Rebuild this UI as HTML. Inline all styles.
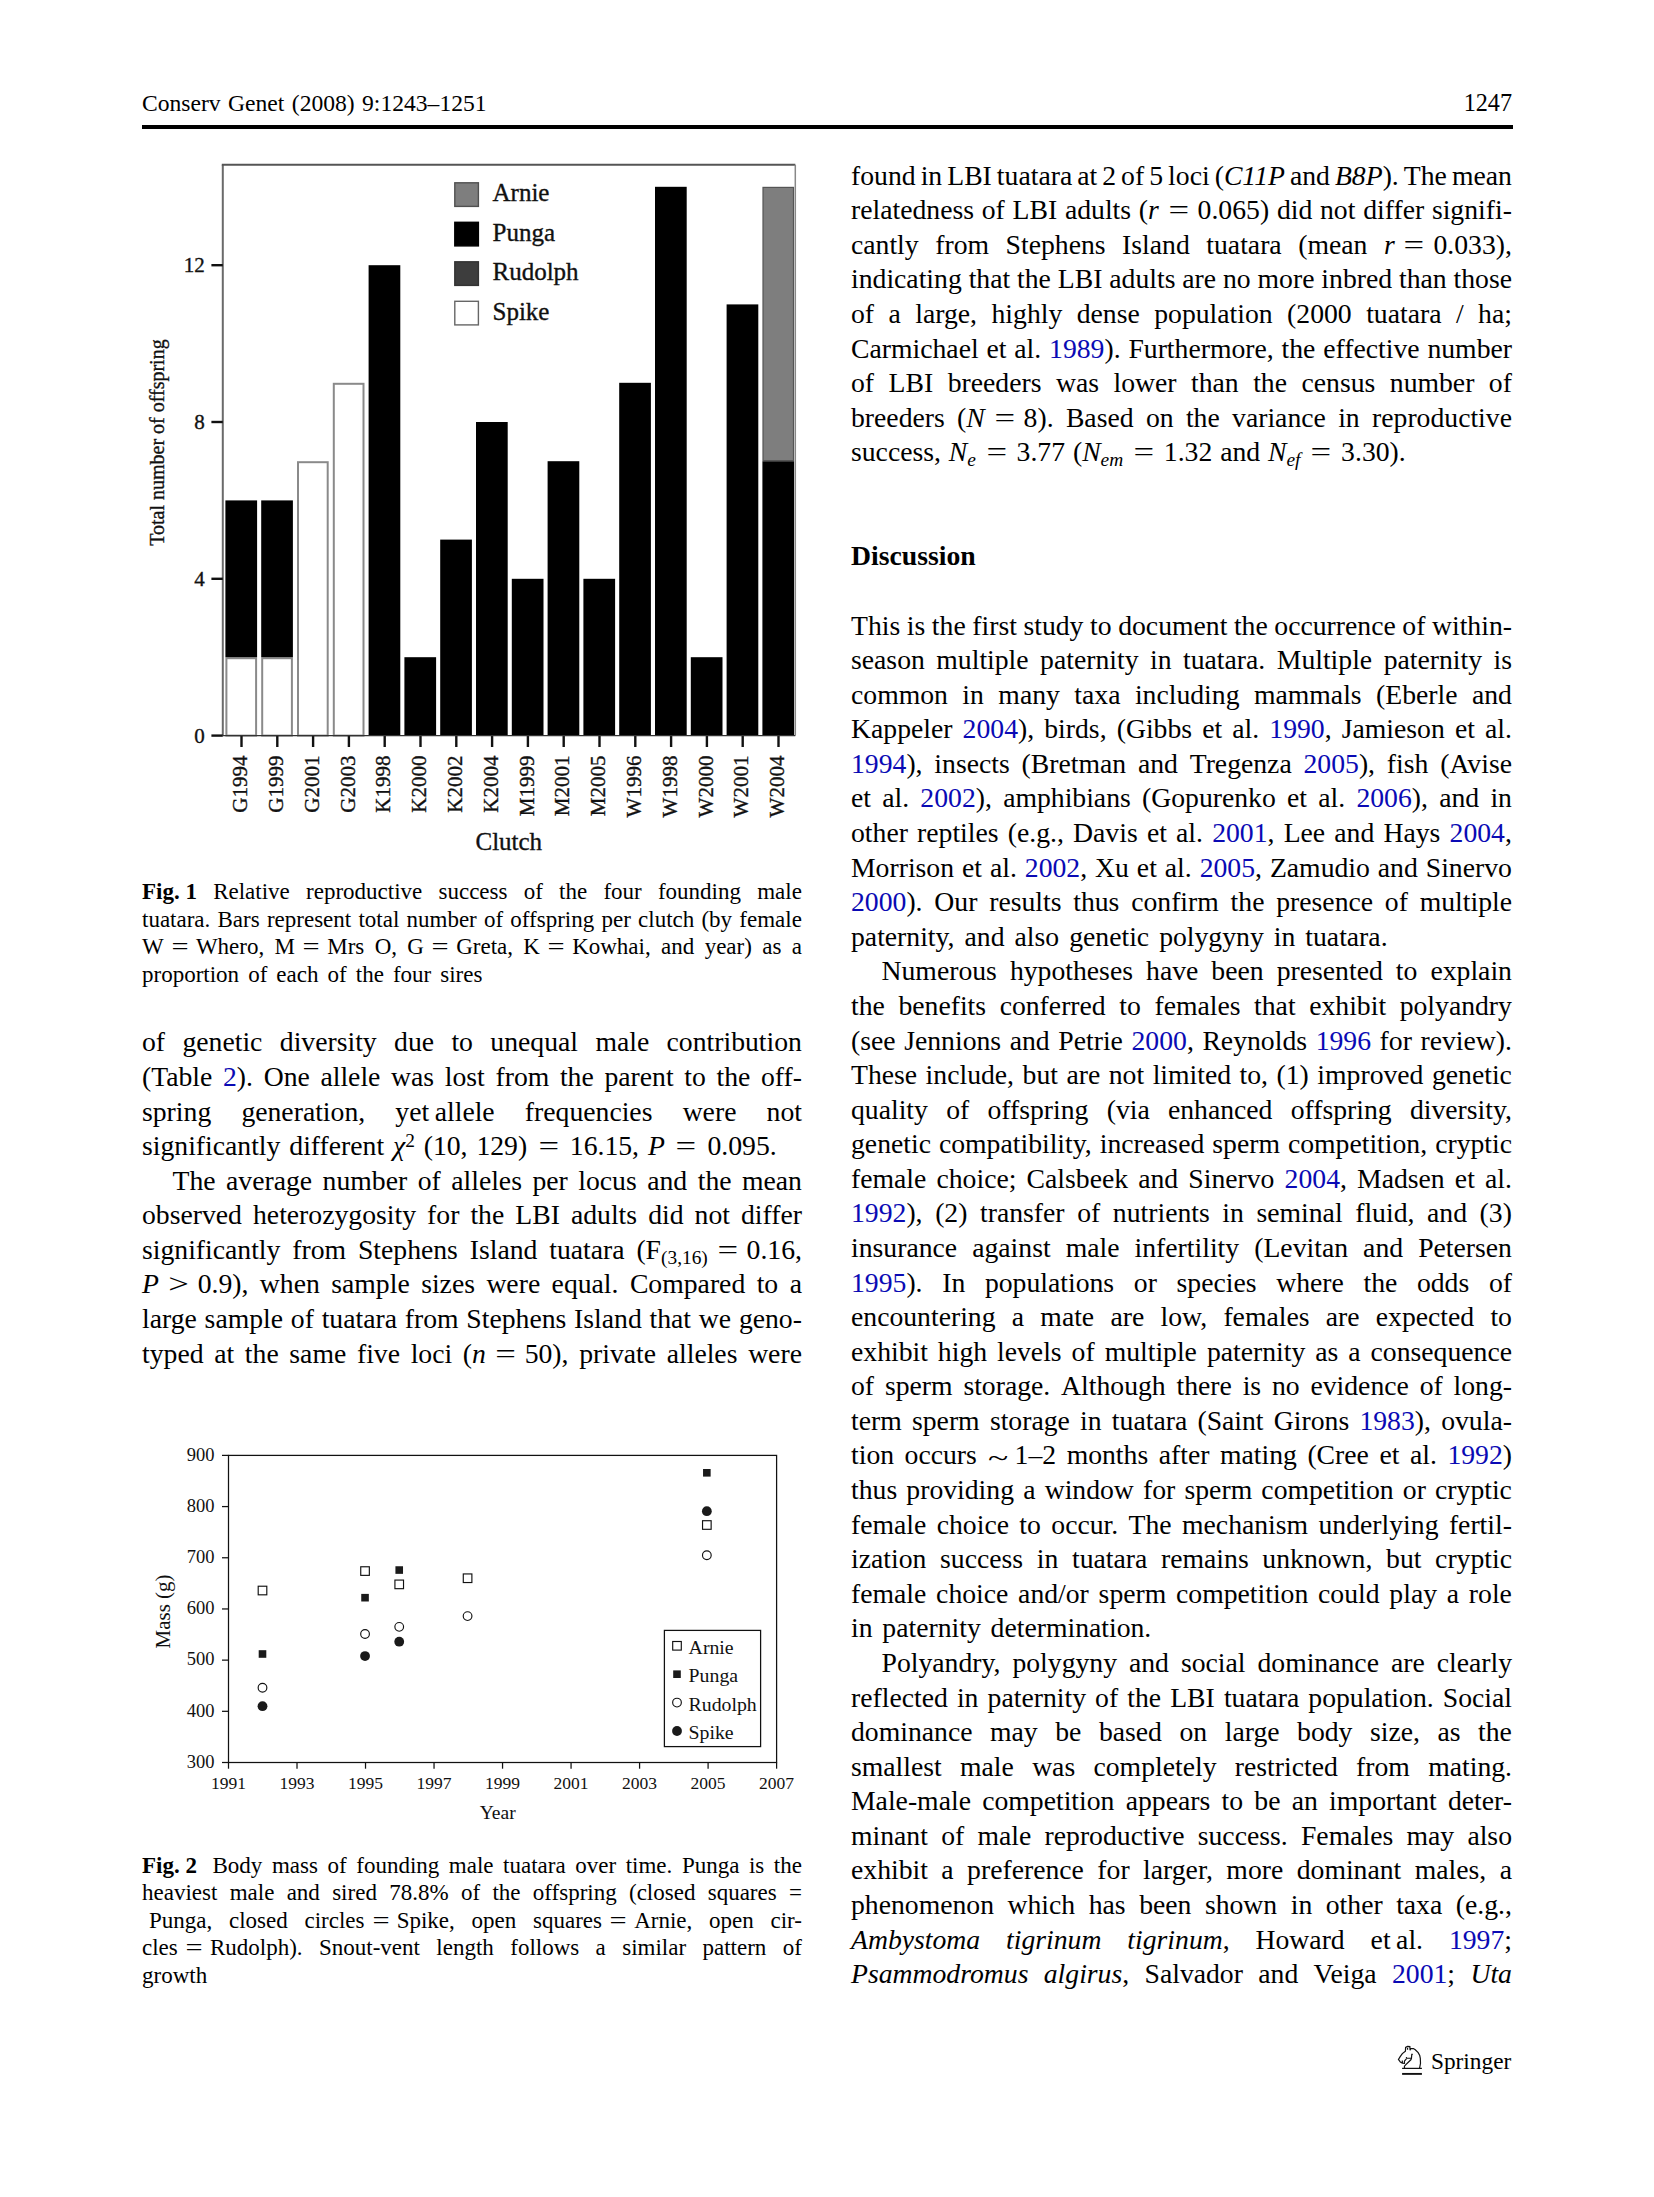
<!DOCTYPE html>
<html><head><meta charset="utf-8">
<style>
html,body{margin:0;padding:0;background:#fff;}
#pg{position:relative;width:1654px;height:2197px;overflow:hidden;background:#fff;color:#000;font-family:"Liberation Serif",serif;}
.lj,.ll{position:absolute;line-height:1;white-space:nowrap;}
.lj{display:flex;justify-content:space-between;align-items:baseline;}
.lj>span{display:block;}
a{color:#0a0ab4;text-decoration:none;}
sub,sup{line-height:0;font-size:70%;}
.sim{display:inline-block;width:0.8em;margin-right:5px;text-align:center;transform:translateY(0.11em) scaleX(1.35);}
.eq{display:inline-block;width:0.7em;margin:0 0.1em;text-align:center;transform:scaleX(1.32);}
sub{vertical-align:-0.25em;}
sup{vertical-align:0.4em;}
svg{position:absolute;left:0;top:0;}
svg text{font-family:"Liberation Serif",serif;fill:#111;}
.bar text{stroke:#111;stroke-width:0.35px;}
</style></head><body><div id="pg">
<svg width="1654" height="2197" viewBox="0 0 1654 2197">
<defs><pattern id="hatch" width="3" height="3" patternUnits="userSpaceOnUse"><rect width="3" height="3" fill="#555"/><path d="M0,3 L3,0" stroke="#222" stroke-width="1"/></pattern></defs>
<g class="bar"><rect x="226.40" y="658.20" width="29.70" height="77.40" fill="#fff" stroke="#8a8a8a" stroke-width="2"/><rect x="225.40" y="500.40" width="31.70" height="156.80" fill="#000"/><line x1="241.50" y1="735.60" x2="241.50" y2="747.00" stroke="#111" stroke-width="2.4"/><text transform="translate(247.20,755.6) rotate(-90)" text-anchor="end" font-size="21">G1994</text><rect x="262.20" y="658.20" width="29.70" height="77.40" fill="#fff" stroke="#8a8a8a" stroke-width="2"/><rect x="261.20" y="500.40" width="31.70" height="156.80" fill="#000"/><line x1="277.30" y1="735.60" x2="277.30" y2="747.00" stroke="#111" stroke-width="2.4"/><text transform="translate(283.00,755.6) rotate(-90)" text-anchor="end" font-size="21">G1999</text><rect x="298.00" y="462.20" width="29.70" height="273.40" fill="#fff" stroke="#8a8a8a" stroke-width="2"/><line x1="313.10" y1="735.60" x2="313.10" y2="747.00" stroke="#111" stroke-width="2.4"/><text transform="translate(318.80,755.6) rotate(-90)" text-anchor="end" font-size="21">G2001</text><rect x="333.80" y="383.80" width="29.70" height="351.80" fill="#fff" stroke="#8a8a8a" stroke-width="2"/><line x1="348.90" y1="735.60" x2="348.90" y2="747.00" stroke="#111" stroke-width="2.4"/><text transform="translate(354.60,755.6) rotate(-90)" text-anchor="end" font-size="21">G2003</text><rect x="368.60" y="265.20" width="31.70" height="470.40" fill="#000"/><line x1="384.70" y1="735.60" x2="384.70" y2="747.00" stroke="#111" stroke-width="2.4"/><text transform="translate(390.40,755.6) rotate(-90)" text-anchor="end" font-size="21">K1998</text><rect x="404.40" y="657.20" width="31.70" height="78.40" fill="#000"/><line x1="420.50" y1="735.60" x2="420.50" y2="747.00" stroke="#111" stroke-width="2.4"/><text transform="translate(426.20,755.6) rotate(-90)" text-anchor="end" font-size="21">K2000</text><rect x="440.20" y="539.60" width="31.70" height="196.00" fill="#000"/><line x1="456.30" y1="735.60" x2="456.30" y2="747.00" stroke="#111" stroke-width="2.4"/><text transform="translate(462.00,755.6) rotate(-90)" text-anchor="end" font-size="21">K2002</text><rect x="476.00" y="422.00" width="31.70" height="313.60" fill="#000"/><line x1="492.10" y1="735.60" x2="492.10" y2="747.00" stroke="#111" stroke-width="2.4"/><text transform="translate(497.80,755.6) rotate(-90)" text-anchor="end" font-size="21">K2004</text><rect x="511.80" y="578.80" width="31.70" height="156.80" fill="#000"/><line x1="527.90" y1="735.60" x2="527.90" y2="747.00" stroke="#111" stroke-width="2.4"/><text transform="translate(533.60,755.6) rotate(-90)" text-anchor="end" font-size="21">M1999</text><rect x="547.60" y="461.20" width="31.70" height="274.40" fill="#000"/><line x1="563.70" y1="735.60" x2="563.70" y2="747.00" stroke="#111" stroke-width="2.4"/><text transform="translate(569.40,755.6) rotate(-90)" text-anchor="end" font-size="21">M2001</text><rect x="583.40" y="578.80" width="31.70" height="156.80" fill="#000"/><line x1="599.50" y1="735.60" x2="599.50" y2="747.00" stroke="#111" stroke-width="2.4"/><text transform="translate(605.20,755.6) rotate(-90)" text-anchor="end" font-size="21">M2005</text><rect x="619.20" y="382.80" width="31.70" height="352.80" fill="#000"/><line x1="635.30" y1="735.60" x2="635.30" y2="747.00" stroke="#111" stroke-width="2.4"/><text transform="translate(641.00,755.6) rotate(-90)" text-anchor="end" font-size="21">W1996</text><rect x="655.00" y="186.80" width="31.70" height="548.80" fill="#000"/><line x1="671.10" y1="735.60" x2="671.10" y2="747.00" stroke="#111" stroke-width="2.4"/><text transform="translate(676.80,755.6) rotate(-90)" text-anchor="end" font-size="21">W1998</text><rect x="690.80" y="657.20" width="31.70" height="78.40" fill="#000"/><line x1="706.90" y1="735.60" x2="706.90" y2="747.00" stroke="#111" stroke-width="2.4"/><text transform="translate(712.60,755.6) rotate(-90)" text-anchor="end" font-size="21">W2000</text><rect x="726.60" y="304.40" width="31.70" height="431.20" fill="#000"/><line x1="742.70" y1="735.60" x2="742.70" y2="747.00" stroke="#111" stroke-width="2.4"/><text transform="translate(748.40,755.6) rotate(-90)" text-anchor="end" font-size="21">W2001</text><rect x="762.40" y="461.20" width="31.70" height="274.40" fill="#000"/><rect x="763.00" y="187.40" width="30.50" height="273.20" fill="#7e7e7e" stroke="#555" stroke-width="1.2"/><line x1="778.50" y1="735.60" x2="778.50" y2="747.00" stroke="#111" stroke-width="2.4"/><text transform="translate(784.20,755.6) rotate(-90)" text-anchor="end" font-size="21">W2004</text><line x1="222.80" y1="164.70" x2="222.80" y2="735.60" stroke="#6a6a6a" stroke-width="2"/><line x1="221.80" y1="164.70" x2="795.30" y2="164.70" stroke="#555" stroke-width="2"/><line x1="795.30" y1="164.70" x2="795.30" y2="735.60" stroke="#888" stroke-width="1.5"/><line x1="222.80" y1="735.60" x2="795.30" y2="735.60" stroke="#333" stroke-width="1.4"/><line x1="211.4" y1="735.60" x2="222.80" y2="735.60" stroke="#111" stroke-width="2.4"/><text x="204.8" y="742.80" text-anchor="end" font-size="21">0</text><line x1="211.4" y1="578.80" x2="222.80" y2="578.80" stroke="#111" stroke-width="2.4"/><text x="204.8" y="586.00" text-anchor="end" font-size="21">4</text><line x1="211.4" y1="422.00" x2="222.80" y2="422.00" stroke="#111" stroke-width="2.4"/><text x="204.8" y="429.20" text-anchor="end" font-size="21">8</text><line x1="211.4" y1="265.20" x2="222.80" y2="265.20" stroke="#111" stroke-width="2.4"/><text x="204.8" y="272.40" text-anchor="end" font-size="21">12</text><text transform="translate(164.2,442.6) rotate(-90)" text-anchor="middle" font-size="20">Total number of offspring</text><text x="508.8" y="849.6" text-anchor="middle" font-size="25">Clutch</text><rect x="454.8" y="182.80" width="23.6" height="23.6" fill="#7e7e7e" stroke="#505050" stroke-width="1.4"/><text x="492.5" y="201.40" font-size="25">Arnie</text><rect x="454.8" y="222.30" width="23.6" height="23.6" fill="#000" stroke="#000" stroke-width="1.4"/><text x="492.5" y="240.90" font-size="25">Punga</text><rect x="454.8" y="261.80" width="23.6" height="23.6" fill="#3d3d3d" stroke="#333" stroke-width="1.4"/><text x="492.5" y="280.40" font-size="25">Rudolph</text><rect x="454.8" y="301.30" width="23.6" height="23.6" fill="#fff" stroke="#666" stroke-width="1.4"/><text x="492.5" y="319.90" font-size="25">Spike</text></g><g class="sc"><rect x="228.50" y="1455.40" width="548.10" height="307.10" fill="none" stroke="#111" stroke-width="1.25"/><line x1="222" y1="1762.50" x2="228.50" y2="1762.50" stroke="#111" stroke-width="1.25"/><text x="214.5" y="1767.80" text-anchor="end" font-size="18.5">300</text><line x1="222" y1="1711.32" x2="228.50" y2="1711.32" stroke="#111" stroke-width="1.25"/><text x="214.5" y="1716.62" text-anchor="end" font-size="18.5">400</text><line x1="222" y1="1660.13" x2="228.50" y2="1660.13" stroke="#111" stroke-width="1.25"/><text x="214.5" y="1665.43" text-anchor="end" font-size="18.5">500</text><line x1="222" y1="1608.95" x2="228.50" y2="1608.95" stroke="#111" stroke-width="1.25"/><text x="214.5" y="1614.25" text-anchor="end" font-size="18.5">600</text><line x1="222" y1="1557.77" x2="228.50" y2="1557.77" stroke="#111" stroke-width="1.25"/><text x="214.5" y="1563.07" text-anchor="end" font-size="18.5">700</text><line x1="222" y1="1506.58" x2="228.50" y2="1506.58" stroke="#111" stroke-width="1.25"/><text x="214.5" y="1511.88" text-anchor="end" font-size="18.5">800</text><line x1="222" y1="1455.40" x2="228.50" y2="1455.40" stroke="#111" stroke-width="1.25"/><text x="214.5" y="1460.70" text-anchor="end" font-size="18.5">900</text><line x1="228.50" y1="1762.50" x2="228.50" y2="1768.7" stroke="#111" stroke-width="1.25"/><text x="228.50" y="1789.4" text-anchor="middle" font-size="17.5">1991</text><line x1="297.01" y1="1762.50" x2="297.01" y2="1768.7" stroke="#111" stroke-width="1.25"/><text x="297.01" y="1789.4" text-anchor="middle" font-size="17.5">1993</text><line x1="365.52" y1="1762.50" x2="365.52" y2="1768.7" stroke="#111" stroke-width="1.25"/><text x="365.52" y="1789.4" text-anchor="middle" font-size="17.5">1995</text><line x1="434.04" y1="1762.50" x2="434.04" y2="1768.7" stroke="#111" stroke-width="1.25"/><text x="434.04" y="1789.4" text-anchor="middle" font-size="17.5">1997</text><line x1="502.55" y1="1762.50" x2="502.55" y2="1768.7" stroke="#111" stroke-width="1.25"/><text x="502.55" y="1789.4" text-anchor="middle" font-size="17.5">1999</text><line x1="571.06" y1="1762.50" x2="571.06" y2="1768.7" stroke="#111" stroke-width="1.25"/><text x="571.06" y="1789.4" text-anchor="middle" font-size="17.5">2001</text><line x1="639.58" y1="1762.50" x2="639.58" y2="1768.7" stroke="#111" stroke-width="1.25"/><text x="639.58" y="1789.4" text-anchor="middle" font-size="17.5">2003</text><line x1="708.09" y1="1762.50" x2="708.09" y2="1768.7" stroke="#111" stroke-width="1.25"/><text x="708.09" y="1789.4" text-anchor="middle" font-size="17.5">2005</text><line x1="776.60" y1="1762.50" x2="776.60" y2="1768.7" stroke="#111" stroke-width="1.25"/><text x="776.60" y="1789.4" text-anchor="middle" font-size="17.5">2007</text><text x="497.7" y="1818.6" text-anchor="middle" font-size="19.5">Year</text><text transform="translate(169.6,1611.5) rotate(-90)" text-anchor="middle" font-size="21">Mass (g)</text><rect x="258.20" y="1586.22" width="8.6" height="8.6" fill="#fff" stroke="#111" stroke-width="1.15"/><rect x="258.70" y="1650.19" width="7.6" height="7.6" fill="#1a1a1a"/><circle cx="262.50" cy="1687.77" r="4.35" fill="#fff" stroke="#111" stroke-width="1.15"/><circle cx="262.50" cy="1706.20" r="4.9" fill="#1a1a1a"/><rect x="360.74" y="1566.77" width="8.6" height="8.6" fill="#fff" stroke="#111" stroke-width="1.15"/><rect x="361.24" y="1593.89" width="7.6" height="7.6" fill="#1a1a1a"/><circle cx="365.04" cy="1634.03" r="4.35" fill="#fff" stroke="#111" stroke-width="1.15"/><circle cx="365.04" cy="1656.04" r="4.9" fill="#1a1a1a"/><rect x="395.42" y="1566.25" width="7.6" height="7.6" fill="#1a1a1a"/><rect x="394.92" y="1580.08" width="8.6" height="8.6" fill="#fff" stroke="#111" stroke-width="1.15"/><circle cx="399.22" cy="1626.86" r="4.35" fill="#fff" stroke="#111" stroke-width="1.15"/><circle cx="399.22" cy="1641.71" r="4.9" fill="#1a1a1a"/><rect x="463.28" y="1573.94" width="8.6" height="8.6" fill="#fff" stroke="#111" stroke-width="1.15"/><circle cx="467.58" cy="1616.12" r="4.35" fill="#fff" stroke="#111" stroke-width="1.15"/><rect x="703.04" y="1469.00" width="7.6" height="7.6" fill="#1a1a1a"/><circle cx="706.84" cy="1511.19" r="4.9" fill="#1a1a1a"/><rect x="702.54" y="1520.71" width="8.6" height="8.6" fill="#fff" stroke="#111" stroke-width="1.15"/><circle cx="706.84" cy="1555.21" r="4.35" fill="#fff" stroke="#111" stroke-width="1.15"/><rect x="664.4" y="1630.4" width="96.2" height="116.2" fill="#fff" stroke="#111" stroke-width="1.25"/><rect x="672.70" y="1641.50" width="8.6" height="8.6" fill="#fff" stroke="#111" stroke-width="1.15"/><text x="688.6" y="1653.80" font-size="19.8">Arnie</text><rect x="673.20" y="1670.40" width="7.6" height="7.6" fill="#1a1a1a"/><text x="688.6" y="1681.70" font-size="19.8">Punga</text><circle cx="677.00" cy="1702.60" r="4.35" fill="#fff" stroke="#111" stroke-width="1.15"/><text x="688.6" y="1710.80" font-size="19.8">Rudolph</text><circle cx="677.00" cy="1731.00" r="4.9" fill="#1a1a1a"/><text x="688.6" y="1738.70" font-size="19.8">Spike</text></g><g fill="none" stroke="#111" stroke-width="1.2" stroke-linejoin="miter" stroke-linecap="butt"><path d="M1404.45,2068.41 L1404.45,2066.18 L1405.61,2064.83 L1410.83,2059.80 L1411.41,2058.64 L1411.80,2054.38 L1412.77,2054.38"/><path d="M1411.41,2058.25 L1406.57,2058.25 L1406.38,2057.09"/><path d="M1406.38,2058.83 L1404.83,2060.57 L1404.45,2061.35 L1404.45,2063.28 L1402.32,2063.09 L1400.38,2062.12 L1398.45,2059.41 L1400.19,2056.70 L1402.32,2053.61 L1405.41,2051.09 L1405.61,2047.42 L1407.54,2046.45 L1409.86,2046.64 L1410.06,2050.32 L1410.83,2048.38 L1413.35,2048.58 L1415.28,2049.74 L1418.18,2052.64 L1419.73,2055.54 L1420.31,2058.44 L1420.50,2063.28 L1419.54,2068.41"/><path d="M1407.54,2047.8 L1407.54,2049.74"/><path d="M1402.32,2060.38 L1402.32,2062.9"/></g><line x1="1402.1" y1="2068.4" x2="1421.9" y2="2068.4" stroke="#111" stroke-width="1.25"/><line x1="1402.1" y1="2073.9" x2="1421.9" y2="2073.9" stroke="#111" stroke-width="1.9"/>
</svg>
<div class="ll" style="left:142.0px;top:91.9px;font-size:23.60px;word-spacing:1.50px;">Conserv Genet (2008) 9:1243–1251</div>
<div class="ll" style="left:1400px;width:1512px;top:90.5px;font-size:24.2px;text-align:right;width:112px">1247</div>
<div style="position:absolute;left:142px;top:125px;width:1371px;height:3.8px;background:#000"></div>
<div class="lj" style="left:851.0px;top:161.7px;width:661.0px;font-size:27.70px;"><span>found</span><span>in</span><span>LBI</span><span>tuatara</span><span>at</span><span>2</span><span>of</span><span>5</span><span>loci</span><span>(<i>C11P</i></span><span>and</span><span><i>B8P</i>).</span><span>The</span><span>mean</span></div>
<div class="lj" style="left:851.0px;top:196.3px;width:661.0px;font-size:27.70px;"><span>relatedness</span><span>of</span><span>LBI</span><span>adults</span><span>(<i>r</i>&nbsp;<span class="eq">=</span>&nbsp;0.065)</span><span>did</span><span>not</span><span>differ</span><span>signifi-</span></div>
<div class="lj" style="left:851.0px;top:230.9px;width:661.0px;font-size:27.70px;"><span>cantly</span><span>from</span><span>Stephens</span><span>Island</span><span>tuatara</span><span>(mean</span><span><i>r</i>&nbsp;<span class="eq">=</span>&nbsp;0.033),</span></div>
<div class="lj" style="left:851.0px;top:265.4px;width:661.0px;font-size:27.70px;"><span>indicating</span><span>that</span><span>the</span><span>LBI</span><span>adults</span><span>are</span><span>no</span><span>more</span><span>inbred</span><span>than</span><span>those</span></div>
<div class="lj" style="left:851.0px;top:300.0px;width:661.0px;font-size:27.70px;"><span>of</span><span>a</span><span>large,</span><span>highly</span><span>dense</span><span>population</span><span>(2000</span><span>tuatara</span><span>/</span><span>ha;</span></div>
<div class="lj" style="left:851.0px;top:334.6px;width:661.0px;font-size:27.70px;"><span>Carmichael</span><span>et</span><span>al.</span><span><a>1989</a>).</span><span>Furthermore,</span><span>the</span><span>effective</span><span>number</span></div>
<div class="lj" style="left:851.0px;top:369.2px;width:661.0px;font-size:27.70px;"><span>of</span><span>LBI</span><span>breeders</span><span>was</span><span>lower</span><span>than</span><span>the</span><span>census</span><span>number</span><span>of</span></div>
<div class="lj" style="left:851.0px;top:403.8px;width:661.0px;font-size:27.70px;"><span>breeders</span><span>(<i>N</i>&nbsp;<span class="eq">=</span>&nbsp;8).</span><span>Based</span><span>on</span><span>the</span><span>variance</span><span>in</span><span>reproductive</span></div>
<div class="ll" style="left:851.0px;top:438.3px;font-size:27.70px;word-spacing:0.95px;">success, <i>N<sub>e</sub></i> <span class="eq">=</span> 3.77 (<i>N<sub>em</sub></i> <span class="eq">=</span> 1.32 and <i>N<sub>ef</sub></i> <span class="eq">=</span> 3.30).</div>
<div class="ll" style="left:851.0px;top:542.1px;font-size:27.70px;"><b>Discussion</b></div>
<div class="lj" style="left:851.0px;top:611.5px;width:661.0px;font-size:27.70px;"><span>This</span><span>is</span><span>the</span><span>first</span><span>study</span><span>to</span><span>document</span><span>the</span><span>occurrence</span><span>of</span><span>within-</span></div>
<div class="lj" style="left:851.0px;top:646.1px;width:661.0px;font-size:27.70px;"><span>season</span><span>multiple</span><span>paternity</span><span>in</span><span>tuatara.</span><span>Multiple</span><span>paternity</span><span>is</span></div>
<div class="lj" style="left:851.0px;top:680.7px;width:661.0px;font-size:27.70px;"><span>common</span><span>in</span><span>many</span><span>taxa</span><span>including</span><span>mammals</span><span>(Eberle</span><span>and</span></div>
<div class="lj" style="left:851.0px;top:715.2px;width:661.0px;font-size:27.70px;"><span>Kappeler</span><span><a>2004</a>),</span><span>birds,</span><span>(Gibbs</span><span>et</span><span>al.</span><span><a>1990</a>,</span><span>Jamieson</span><span>et</span><span>al.</span></div>
<div class="lj" style="left:851.0px;top:749.8px;width:661.0px;font-size:27.70px;"><span><a>1994</a>),</span><span>insects</span><span>(Bretman</span><span>and</span><span>Tregenza</span><span><a>2005</a>),</span><span>fish</span><span>(Avise</span></div>
<div class="lj" style="left:851.0px;top:784.4px;width:661.0px;font-size:27.70px;"><span>et</span><span>al.</span><span><a>2002</a>),</span><span>amphibians</span><span>(Gopurenko</span><span>et</span><span>al.</span><span><a>2006</a>),</span><span>and</span><span>in</span></div>
<div class="lj" style="left:851.0px;top:819.0px;width:661.0px;font-size:27.70px;"><span>other</span><span>reptiles</span><span>(e.g.,</span><span>Davis</span><span>et</span><span>al.</span><span><a>2001</a>,</span><span>Lee</span><span>and</span><span>Hays</span><span><a>2004</a>,</span></div>
<div class="lj" style="left:851.0px;top:853.6px;width:661.0px;font-size:27.70px;"><span>Morrison</span><span>et</span><span>al.</span><span><a>2002</a>,</span><span>Xu</span><span>et</span><span>al.</span><span><a>2005</a>,</span><span>Zamudio</span><span>and</span><span>Sinervo</span></div>
<div class="lj" style="left:851.0px;top:888.1px;width:661.0px;font-size:27.70px;"><span><a>2000</a>).</span><span>Our</span><span>results</span><span>thus</span><span>confirm</span><span>the</span><span>presence</span><span>of</span><span>multiple</span></div>
<div class="ll" style="left:851.0px;top:922.7px;font-size:27.70px;word-spacing:3.10px;">paternity, and also genetic polygyny in tuatara.</div>
<div class="lj" style="left:881.5px;top:957.3px;width:630.5px;font-size:27.70px;"><span>Numerous</span><span>hypotheses</span><span>have</span><span>been</span><span>presented</span><span>to</span><span>explain</span></div>
<div class="lj" style="left:851.0px;top:991.9px;width:661.0px;font-size:27.70px;"><span>the</span><span>benefits</span><span>conferred</span><span>to</span><span>females</span><span>that</span><span>exhibit</span><span>polyandry</span></div>
<div class="lj" style="left:851.0px;top:1026.5px;width:661.0px;font-size:27.70px;"><span>(see</span><span>Jennions</span><span>and</span><span>Petrie</span><span><a>2000</a>,</span><span>Reynolds</span><span><a>1996</a></span><span>for</span><span>review).</span></div>
<div class="lj" style="left:851.0px;top:1061.0px;width:661.0px;font-size:27.70px;"><span>These</span><span>include,</span><span>but</span><span>are</span><span>not</span><span>limited</span><span>to,</span><span>(1)</span><span>improved</span><span>genetic</span></div>
<div class="lj" style="left:851.0px;top:1095.6px;width:661.0px;font-size:27.70px;"><span>quality</span><span>of</span><span>offspring</span><span>(via</span><span>enhanced</span><span>offspring</span><span>diversity,</span></div>
<div class="lj" style="left:851.0px;top:1130.2px;width:661.0px;font-size:27.70px;"><span>genetic</span><span>compatibility,</span><span>increased</span><span>sperm</span><span>competition,</span><span>cryptic</span></div>
<div class="lj" style="left:851.0px;top:1164.8px;width:661.0px;font-size:27.70px;"><span>female</span><span>choice;</span><span>Calsbeek</span><span>and</span><span>Sinervo</span><span><a>2004</a>,</span><span>Madsen</span><span>et</span><span>al.</span></div>
<div class="lj" style="left:851.0px;top:1199.4px;width:661.0px;font-size:27.70px;"><span><a>1992</a>),</span><span>(2)</span><span>transfer</span><span>of</span><span>nutrients</span><span>in</span><span>seminal</span><span>fluid,</span><span>and</span><span>(3)</span></div>
<div class="lj" style="left:851.0px;top:1233.9px;width:661.0px;font-size:27.70px;"><span>insurance</span><span>against</span><span>male</span><span>infertility</span><span>(Levitan</span><span>and</span><span>Petersen</span></div>
<div class="lj" style="left:851.0px;top:1268.5px;width:661.0px;font-size:27.70px;"><span><a>1995</a>).</span><span>In</span><span>populations</span><span>or</span><span>species</span><span>where</span><span>the</span><span>odds</span><span>of</span></div>
<div class="lj" style="left:851.0px;top:1303.1px;width:661.0px;font-size:27.70px;"><span>encountering</span><span>a</span><span>mate</span><span>are</span><span>low,</span><span>females</span><span>are</span><span>expected</span><span>to</span></div>
<div class="lj" style="left:851.0px;top:1337.7px;width:661.0px;font-size:27.70px;"><span>exhibit</span><span>high</span><span>levels</span><span>of</span><span>multiple</span><span>paternity</span><span>as</span><span>a</span><span>consequence</span></div>
<div class="lj" style="left:851.0px;top:1372.3px;width:661.0px;font-size:27.70px;"><span>of</span><span>sperm</span><span>storage.</span><span>Although</span><span>there</span><span>is</span><span>no</span><span>evidence</span><span>of</span><span>long-</span></div>
<div class="lj" style="left:851.0px;top:1406.8px;width:661.0px;font-size:27.70px;"><span>term</span><span>sperm</span><span>storage</span><span>in</span><span>tuatara</span><span>(Saint</span><span>Girons</span><span><a>1983</a>),</span><span>ovula-</span></div>
<div class="lj" style="left:851.0px;top:1441.4px;width:661.0px;font-size:27.70px;"><span>tion</span><span>occurs</span><span><span class="sim">~</span>1–2</span><span>months</span><span>after</span><span>mating</span><span>(Cree</span><span>et</span><span>al.</span><span><a>1992</a>)</span></div>
<div class="lj" style="left:851.0px;top:1476.0px;width:661.0px;font-size:27.70px;"><span>thus</span><span>providing</span><span>a</span><span>window</span><span>for</span><span>sperm</span><span>competition</span><span>or</span><span>cryptic</span></div>
<div class="lj" style="left:851.0px;top:1510.6px;width:661.0px;font-size:27.70px;"><span>female</span><span>choice</span><span>to</span><span>occur.</span><span>The</span><span>mechanism</span><span>underlying</span><span>fertil-</span></div>
<div class="lj" style="left:851.0px;top:1545.2px;width:661.0px;font-size:27.70px;"><span>ization</span><span>success</span><span>in</span><span>tuatara</span><span>remains</span><span>unknown,</span><span>but</span><span>cryptic</span></div>
<div class="lj" style="left:851.0px;top:1579.7px;width:661.0px;font-size:27.70px;"><span>female</span><span>choice</span><span>and/or</span><span>sperm</span><span>competition</span><span>could</span><span>play</span><span>a</span><span>role</span></div>
<div class="ll" style="left:851.0px;top:1614.3px;font-size:27.70px;word-spacing:2.90px;">in paternity determination.</div>
<div class="lj" style="left:881.5px;top:1648.9px;width:630.5px;font-size:27.70px;"><span>Polyandry,</span><span>polygyny</span><span>and</span><span>social</span><span>dominance</span><span>are</span><span>clearly</span></div>
<div class="lj" style="left:851.0px;top:1683.5px;width:661.0px;font-size:27.70px;"><span>reflected</span><span>in</span><span>paternity</span><span>of</span><span>the</span><span>LBI</span><span>tuatara</span><span>population.</span><span>Social</span></div>
<div class="lj" style="left:851.0px;top:1718.1px;width:661.0px;font-size:27.70px;"><span>dominance</span><span>may</span><span>be</span><span>based</span><span>on</span><span>large</span><span>body</span><span>size,</span><span>as</span><span>the</span></div>
<div class="lj" style="left:851.0px;top:1752.6px;width:661.0px;font-size:27.70px;"><span>smallest</span><span>male</span><span>was</span><span>completely</span><span>restricted</span><span>from</span><span>mating.</span></div>
<div class="lj" style="left:851.0px;top:1787.2px;width:661.0px;font-size:27.70px;"><span>Male-male</span><span>competition</span><span>appears</span><span>to</span><span>be</span><span>an</span><span>important</span><span>deter-</span></div>
<div class="lj" style="left:851.0px;top:1821.8px;width:661.0px;font-size:27.70px;"><span>minant</span><span>of</span><span>male</span><span>reproductive</span><span>success.</span><span>Females</span><span>may</span><span>also</span></div>
<div class="lj" style="left:851.0px;top:1856.4px;width:661.0px;font-size:27.70px;"><span>exhibit</span><span>a</span><span>preference</span><span>for</span><span>larger,</span><span>more</span><span>dominant</span><span>males,</span><span>a</span></div>
<div class="lj" style="left:851.0px;top:1891.0px;width:661.0px;font-size:27.70px;"><span>phenomenon</span><span>which</span><span>has</span><span>been</span><span>shown</span><span>in</span><span>other</span><span>taxa</span><span>(e.g.,</span></div>
<div class="lj" style="left:851.0px;top:1925.5px;width:661.0px;font-size:27.70px;"><span><i>Ambystoma</i></span><span><i>tigrinum</i></span><span><i>tigrinum</i>,</span><span>Howard</span><span>et&#8201;al.</span><span><a>1997</a>;</span></div>
<div class="lj" style="left:851.0px;top:1960.1px;width:661.0px;font-size:27.70px;"><span><i>Psammodromus</i></span><span><i>algirus</i>,</span><span>Salvador</span><span>and</span><span>Veiga</span><span><a>2001</a>;</span><span><i>Uta</i></span></div>
<div class="lj" style="left:142.0px;top:1028.3px;width:660.0px;font-size:27.70px;"><span>of</span><span>genetic</span><span>diversity</span><span>due</span><span>to</span><span>unequal</span><span>male</span><span>contribution</span></div>
<div class="lj" style="left:142.0px;top:1062.9px;width:660.0px;font-size:27.70px;"><span>(Table</span><span><a>2</a>).</span><span>One</span><span>allele</span><span>was</span><span>lost</span><span>from</span><span>the</span><span>parent</span><span>to</span><span>the</span><span>off-</span></div>
<div class="lj" style="left:142.0px;top:1097.5px;width:660.0px;font-size:27.70px;"><span>spring</span><span>generation,</span><span>yet&#8201;allele</span><span>frequencies</span><span>were</span><span>not</span></div>
<div class="ll" style="left:142.0px;top:1132.0px;font-size:27.70px;word-spacing:1.95px;">significantly different <i>χ</i><sup>2</sup> (10, 129) <span class="eq">=</span> 16.15, <i>P</i> <span class="eq">=</span> 0.095.</div>
<div class="lj" style="left:172.5px;top:1166.6px;width:629.5px;font-size:27.70px;"><span>The</span><span>average</span><span>number</span><span>of</span><span>alleles</span><span>per</span><span>locus</span><span>and</span><span>the</span><span>mean</span></div>
<div class="lj" style="left:142.0px;top:1201.2px;width:660.0px;font-size:27.70px;"><span>observed</span><span>heterozygosity</span><span>for</span><span>the</span><span>LBI</span><span>adults</span><span>did</span><span>not</span><span>differ</span></div>
<div class="lj" style="left:142.0px;top:1235.8px;width:660.0px;font-size:27.70px;"><span>significantly</span><span>from</span><span>Stephens</span><span>Island</span><span>tuatara</span><span>(F<sub>(3,16)</sub>&nbsp;<span class="eq">=</span>&nbsp;0.16,</span></div>
<div class="lj" style="left:142.0px;top:1270.4px;width:660.0px;font-size:27.70px;"><span><i>P</i>&nbsp;<span class="eq">&gt;</span>&nbsp;0.9),</span><span>when</span><span>sample</span><span>sizes</span><span>were</span><span>equal.</span><span>Compared</span><span>to</span><span>a</span></div>
<div class="lj" style="left:142.0px;top:1304.9px;width:660.0px;font-size:27.70px;"><span>large</span><span>sample</span><span>of</span><span>tuatara</span><span>from</span><span>Stephens</span><span>Island</span><span>that</span><span>we</span><span>geno-</span></div>
<div class="lj" style="left:142.0px;top:1339.5px;width:660.0px;font-size:27.70px;"><span>typed</span><span>at</span><span>the</span><span>same</span><span>five</span><span>loci</span><span>(<i>n</i>&nbsp;<span class="eq">=</span>&nbsp;50),</span><span>private</span><span>alleles</span><span>were</span></div>
<div class="lj" style="left:142.0px;top:880.2px;width:660.0px;font-size:23.00px;"><span><b>Fig.&nbsp;1</b></span><span>Relative</span><span>reproductive</span><span>success</span><span>of</span><span>the</span><span>four</span><span>founding</span><span>male</span></div>
<div class="lj" style="left:142.0px;top:907.9px;width:660.0px;font-size:23.00px;"><span>tuatara.</span><span>Bars</span><span>represent</span><span>total</span><span>number</span><span>of</span><span>offspring</span><span>per</span><span>clutch</span><span>(by</span><span>female</span></div>
<div class="lj" style="left:142.0px;top:935.1px;width:660.0px;font-size:23.00px;"><span>W&nbsp;<span class="eq">=</span>&nbsp;Whero,</span><span>M&nbsp;<span class="eq">=</span>&nbsp;Mrs</span><span>O,</span><span>G&nbsp;<span class="eq">=</span>&nbsp;Greta,</span><span>K&nbsp;<span class="eq">=</span>&nbsp;Kowhai,</span><span>and</span><span>year)</span><span>as</span><span>a</span></div>
<div class="ll" style="left:142.0px;top:962.7px;font-size:23.00px;word-spacing:3.30px;">proportion of each of the four sires</div>
<div class="lj" style="left:142.0px;top:1854.2px;width:660.0px;font-size:23.00px;"><span><b style="margin-right:6px">Fig.&nbsp;2</b></span><span>Body</span><span>mass</span><span>of</span><span>founding</span><span>male</span><span>tuatara</span><span>over</span><span>time.</span><span>Punga</span><span>is</span><span>the</span></div>
<div class="lj" style="left:142.0px;top:1881.4px;width:660.0px;font-size:23.00px;"><span>heaviest</span><span>male</span><span>and</span><span>sired</span><span>78.8%</span><span>of</span><span>the</span><span>offspring</span><span>(closed</span><span>squares</span><span>=</span></div>
<div class="lj" style="left:149.0px;top:1908.5px;width:653.0px;font-size:23.00px;"><span>Punga,</span><span>closed</span><span>circles&nbsp;<span class="eq">=</span>&nbsp;Spike,</span><span>open</span><span>squares&nbsp;<span class="eq">=</span>&nbsp;Arnie,</span><span>open</span><span>cir-</span></div>
<div class="lj" style="left:142.0px;top:1936.4px;width:660.0px;font-size:23.00px;"><span>cles&nbsp;<span class="eq">=</span>&nbsp;Rudolph).</span><span>Snout-vent</span><span>length</span><span>follows</span><span>a</span><span>similar</span><span>pattern</span><span>of</span></div>
<div class="ll" style="left:142.0px;top:1963.5px;font-size:23.00px;">growth</div>
<div class="ll" style="left:1431.0px;top:2050.0px;font-size:23.30px;">Springer</div>

</div></body></html>
